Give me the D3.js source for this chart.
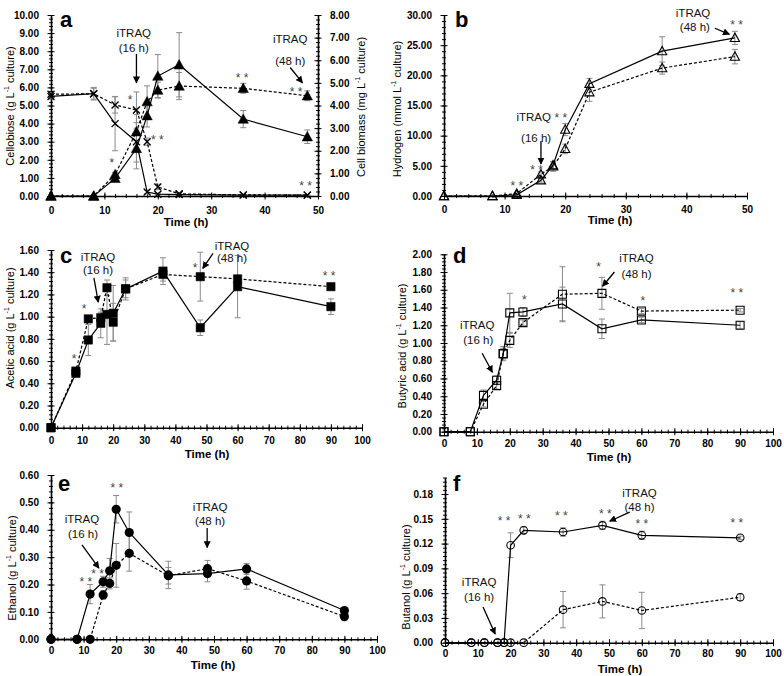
<!DOCTYPE html>
<html><head><meta charset="utf-8">
<script src="https://cdn.jsdelivr.net/npm/d3@7"></script>
<style>body{margin:0;background:#fff} svg{display:block}</style>
</head><body>
<svg id="chart" width="784" height="676"></svg>
<script>
// ---------- DATA ----------
const timeShort = [0, 8, 12, 16, 18, 20, 24, 36, 48];
const timeLong = [0, 8, 12, 16, 18, 20, 24, 36, 48, 60, 90];

// (a) cellobiose (left axis) and cell biomass (right axis)
const cellobioseSolid = [5.5, 5.65, 4.0, 3.0, 0.22, 0.1, 0.08, 0.05, 0.05];
const cellobioseSolidErr = [0.1, 0.3, 1.5, 1.5, 0.1, 0.05, 0.04, 0.02, 0.02];
const cellobioseDashed = [5.62, 5.65, 5.03, 4.75, 3.0, 0.5, 0.12, 0.06, 0.05];
const cellobioseDashedErr = [0.1, 0.35, 0.45, 1.0, 0.2, 0.15, 0.05, 0.02, 0.02];
const biomassSolid = [0, 0, 0.78, 2.1, 3.55, 5.3, 5.8, 3.4, 2.62];
const biomassSolidErr = [0, 0, 0.1, 0.6, 0.5, 0.95, 1.42, 0.38, 0.3];
const biomassDashed = [0, 0, 0.95, 2.84, 4.17, 4.68, 4.86, 4.76, 4.43];
const biomassDashedErr = [0, 0, 0.1, 0.4, 0.7, 0.35, 0.6, 0.22, 0.22];

// (b) hydrogen
const h2Solid = [0, 0, 0.2, 2.6, 5.1, 11.0, 18.6, 24.0, 26.2];
const h2SolidErr = [0, 0, 0.1, 0.3, 0.6, 1.0, 0.9, 2.4, 1.1];
const h2Dashed = [0, 0, 0.4, 3.6, 4.9, 7.8, 17.2, 21.2, 23.1];
const h2DashedErr = [0, 0, 0.1, 0.4, 0.8, 0.8, 1.5, 1.0, 1.2];

// (c) acetic acid
const aceticSolid = [0, 0.49, 0.79, 0.94, 1.02, 1.03, 1.25, 1.41, 0.90, 1.27, 1.09];
const aceticSolidErr = [0, 0.03, 0.14, 0.13, 0.27, 0.25, 0.1, 0.12, 0.07, 0.28, 0.07];
const aceticDashed = [0, 0.51, 0.98, 0.99, 1.26, 0.95, 1.25, 1.38, 1.36, 1.34, 1.27];
const aceticDashedErr = [0, 0.03, 0.02, 0.05, 0.07, 0.17, 0.08, 0.06, 0.22, 0.03, 0.02];

// (d) butyric acid
const butyricSolid = [0, 0, 0.41, 0.58, 0.88, 1.34, 1.35, 1.44, 1.16, 1.26, 1.20];
const butyricSolidErr = [0, 0, 0.06, 0.05, 0.08, 0.22, 0.05, 0.19, 0.11, 0.03, 0.04];
const butyricDashed = [0, 0, 0.31, 0.52, 0.88, 1.03, 1.23, 1.55, 1.56, 1.36, 1.37];
const butyricDashedErr = [0, 0, 0.03, 0.04, 0.06, 0.08, 0.03, 0.31, 0.18, 0.03, 0.02];

// (e) ethanol
const ethanolSolid = [0, 0, 0.165, 0.21, 0.25, 0.475, 0.39, 0.235, 0.24, 0.257, 0.105];
const ethanolSolidErr = [0, 0, 0.035, 0.02, 0.045, 0.05, 0.075, 0.05, 0.03, 0.02, 0.01];
const ethanolDashed = [0, 0, 0, 0.162, 0.204, 0.27, 0.314, 0.232, 0.258, 0.213, 0.083];
const ethanolDashedErr = [0, 0, 0, 0.015, 0.02, 0.08, 0.065, 0.03, 0.03, 0.03, 0.015];

// (f) butanol
const butanolSolid = [0, 0, 0, 0, 0, 0.118, 0.136, 0.134, 0.142, 0.130, 0.127];
const butanolSolidErr = [0, 0, 0, 0, 0, 0.015, 0.004, 0.005, 0.005, 0.005, 0.002];
const butanolDashed = [0, 0, 0, 0, 0, 0, 0, 0.040, 0.050, 0.039, 0.055];
const butanolDashedErr = [0, 0, 0, 0, 0, 0, 0, 0.022, 0.02, 0.022, 0.004];

// tick label values
const ticksX50 = [0, 10, 20, 30, 40, 50];
const ticksX100 = [0, 10, 20, 30, 40, 50, 60, 70, 80, 90, 100];
const ticksCellobiose = [0, 1, 2, 3, 4, 5, 6, 7, 8, 9, 10];
const ticksBiomass = [0, 1, 2, 3, 4, 5, 6, 7, 8];
const ticksHydrogen = [0, 5, 10, 15, 20, 25, 30];
const ticksAcetic = [0, 0.2, 0.4, 0.6, 0.8, 1.0, 1.2, 1.4, 1.6];
const ticksButyric = [0, 0.2, 0.4, 0.6, 0.8, 1.0, 1.2, 1.4, 1.6, 1.8, 2.0];
const ticksEthanol = [0, 0.1, 0.2, 0.3, 0.4, 0.5, 0.6];
const ticksButanol = [0, 0.03, 0.06, 0.09, 0.12, 0.15, 0.18];

// ---------- DRAWING ----------
const FONT = "'Liberation Sans', Arial, sans-serif";
const svg = d3.select('#chart');
svg.append('rect').attr('width', 784).attr('height', 676).attr('fill', '#fff');
const defs = svg.append('defs');
defs.append('marker').attr('id', 'arrow').attr('viewBox', '0 0 10 10')
  .attr('refX', 9).attr('refY', 5).attr('markerWidth', 5.5).attr('markerHeight', 5.5)
  .attr('orient', 'auto').append('path').attr('d', 'M0,0L10,5L0,10z').attr('fill', '#000');

function range(a, b, s) { const r = []; for (let v = a; v <= b + s / 1000; v += s) r.push(+v.toFixed(6)); return r; }

function markerPath(kind) {
  switch (kind) {
    case 'x': return 'M-3.5,-3.5L3.5,3.5M-3.5,3.5L3.5,-3.5';
    case 'triF': return 'M0,-5.2L5.2,4.2L-5.2,4.2Z';
    case 'triO': return 'M0,-4.8L4.6,3.6L-4.6,3.6Z';
    case 'sqF': return 'M-4.2,-4.2H4.2V4.2H-4.2Z';
    case 'sqO': return 'M-4,-4H4V4H-4Z';
    default: return '';
  }
}

function yTitle(g, cx, cy, main, unit) {
  const t = g.append('text').attr('transform', `translate(${cx},${cy}) rotate(-90)`)
    .attr('text-anchor', 'middle').attr('dominant-baseline', 'central')
    .attr('font-family', FONT).attr('font-size', 11).attr('fill', '#000');
  t.append('tspan').text(main + ' (' + unit + ' L');
  t.append('tspan').attr('font-size', 7).attr('dy', -4).text('-1');
  t.append('tspan').attr('dy', 4).text(' culture)');
}

function drawPanel(P) {
  const g = svg.append('g');
  const x = d3.scaleLinear().domain(P.xDomain).range([P.left, P.right]);
  const y = d3.scaleLinear().domain(P.yDomain).range([P.bottom, P.top]);
  const y2 = P.y2Domain ? d3.scaleLinear().domain(P.y2Domain).range([P.bottom, P.top]) : null;
  const sc = a => (a === 'y2' ? y2 : y);

  function styleAxis(a) {
    a.attr('font-family', FONT).attr('font-size', 10).attr('font-weight', 'bold');
    a.selectAll('.domain').attr('stroke', '#000').attr('stroke-width', 1.6);
    a.selectAll('.tick line').attr('stroke', '#000').attr('stroke-width', 1);
  }

  // x axis
  const xg = g.append('g').attr('transform', `translate(0,${P.bottom})`);
  xg.append('g').call(d3.axisBottom(x).tickValues(range(P.xDomain[0], P.xDomain[1], 2)).tickFormat('').tickSizeOuter(0))
    .call(styleAxis).call(a => { a.selectAll('.tick line').attr('y1', -2).attr('y2', 2); a.select('.domain').remove(); });
  xg.append('g').call(d3.axisBottom(x).tickValues(P.xTicks).tickFormat(d3.format('d')).tickSizeOuter(0))
    .call(styleAxis).call(a => {
      a.selectAll('.tick line').attr('y1', -3.5).attr('y2', 3.5);
      a.selectAll('text').attr('y', P.xLabOff).attr('dy', '0.35em').attr('fill', '#000');
    });

  // y axis
  const yg = g.append('g').attr('transform', `translate(${P.left},0)`);
  yg.append('g').call(d3.axisLeft(y).tickValues(range(P.yDomain[0], P.yDomain[1], P.yMinor)).tickFormat('').tickSizeOuter(0))
    .call(styleAxis).call(a => { a.selectAll('.tick line').attr('x1', 2).attr('x2', -2); a.select('.domain').remove(); });
  yg.append('g').call(d3.axisLeft(y).tickValues(P.yTicks).tickFormat(d3.format('.2f')).tickSizeOuter(0).tickPadding(6))
    .call(styleAxis).call(a => {
      a.selectAll('.tick line').attr('x1', 3.5).attr('x2', -3.5);
      a.selectAll('text').attr('fill', '#000');
    });

  if (y2) {
    const y2g = g.append('g').attr('transform', `translate(${P.right},0)`);
    y2g.append('g').call(d3.axisRight(y2).tickValues(range(P.y2Domain[0], P.y2Domain[1], P.y2Minor)).tickFormat('').tickSizeOuter(0))
      .call(styleAxis).call(a => { a.selectAll('.tick line').attr('x1', -2).attr('x2', 2); a.select('.domain').remove(); });
    y2g.append('g').call(d3.axisRight(y2).tickValues(P.y2Ticks).tickFormat(d3.format('.2f')).tickSizeOuter(0).tickPadding(6))
      .call(styleAxis).call(a => {
        a.selectAll('.tick line').attr('x1', -3.5).attr('x2', 3.5);
        a.selectAll('text').attr('fill', '#000');
      });
  }

  // titles
  g.append('text').attr('x', P.xTitle[0]).attr('y', P.xTitle[1]).attr('text-anchor', 'middle')
    .attr('dominant-baseline', 'central').attr('font-family', FONT).attr('font-size', 11.5)
    .attr('font-weight', 'bold').text('Time (h)');
  yTitle(g, P.yTitlePos[0], P.yTitlePos[1], P.yTitle, P.yUnit);
  if (P.y2Title) yTitle(g, P.y2TitlePos[0], P.y2TitlePos[1], P.y2Title, P.y2Unit);
  g.append('text').attr('x', P.letter[0]).attr('y', P.letter[1]).attr('font-family', FONT)
    .attr('font-size', 22).attr('font-weight', 'bold').text(P.letterText);

  // error bars
  P.series.forEach(s => {
    const yy = sc(s.axis);
    s.t.forEach((t, i) => {
      const e = s.err[i];
      if (!e) return;
      const cx = x(t), y1 = yy(s.v[i] + e), y0 = yy(Math.max(0, s.v[i] - e));
      const eg = g.append('g').attr('stroke', '#8a8a8a').attr('stroke-width', 1);
      eg.append('line').attr('x1', cx).attr('x2', cx).attr('y1', y0).attr('y2', y1);
      eg.append('line').attr('x1', cx - 3).attr('x2', cx + 3).attr('y1', y0).attr('y2', y0);
      eg.append('line').attr('x1', cx - 3).attr('x2', cx + 3).attr('y1', y1).attr('y2', y1);
    });
  });
  // lines
  P.series.forEach(s => {
    const yy = sc(s.axis);
    const pts = s.t.map((t, i) => [t, s.v[i]]);
    g.append('path').datum(pts)
      .attr('d', d3.line().x(d => x(d[0])).y(d => yy(d[1])))
      .attr('fill', 'none').attr('stroke', '#000').attr('stroke-width', 1.2)
      .attr('stroke-dasharray', s.dashed ? '3,2' : null);
  });
  // markers
  P.series.forEach(s => {
    const yy = sc(s.axis);
    s.t.forEach((t, i) => {
      const cx = x(t), cy = yy(s.v[i]);
      const k = s.marker;
      if (k === 'cirF') {
        g.append('circle').attr('cx', cx).attr('cy', cy).attr('r', 4.6).attr('fill', '#000');
      } else if (k === 'cirO') {
        g.append('circle').attr('cx', cx).attr('cy', cy).attr('r', 3.8).attr('fill', 'none')
          .attr('stroke', '#000').attr('stroke-width', 1.1);
      } else {
        const filled = k === 'triF' || k === 'sqF';
        g.append('path').attr('transform', `translate(${cx},${cy})`).attr('d', markerPath(k))
          .attr('fill', filled ? '#000' : 'none').attr('stroke', '#000')
          .attr('stroke-width', k === 'x' ? 1.3 : (filled ? 0.5 : 1.1));
      }
    });
  });

  // annotations
  (P.notes || []).forEach(n => {
    const yy = sc(n.axis);
    if (n.arrow) {
      g.append('line').attr('x1', x(n.arrow[0])).attr('y1', yy(n.arrow[1]))
        .attr('x2', x(n.arrow[2])).attr('y2', yy(n.arrow[3]))
        .attr('stroke', '#000').attr('stroke-width', 1.3).attr('marker-end', 'url(#arrow)');
    } else if (n.star) {
      g.append('text').attr('x', x(n.t)).attr('y', yy(n.v)).attr('dy', 7)
        .attr('text-anchor', 'middle').attr('font-family', FONT).attr('font-size', 12)
        .attr('fill', '#444').text(n.star);
    } else {
      g.append('text').attr('x', x(n.t)).attr('y', yy(n.v)).attr('dy', '0.36em')
        .attr('text-anchor', 'middle').attr('font-family', FONT).attr('font-size', 11.5)
        .attr('fill', '#111').text(n.text);
    }
  });
}

const panels = [
  {
    letterText: 'a', letter: [60, 27],
    left: 51, right: 318, top: 15, bottom: 196,
    xDomain: [0, 50], xTicks: ticksX50, xLabOff: 14,
    yDomain: [0, 10], yTicks: ticksCellobiose, yMinor: 0.2,
    y2Domain: [0, 8], y2Ticks: ticksBiomass, y2Minor: 0.2,
    xTitle: [186, 222], yTitle: 'Cellobiose', yUnit: 'g', yTitlePos: [10, 106],
    y2Title: 'Cell biomass', y2Unit: 'mg', y2TitlePos: [361, 107],
    series: [
      { t: timeShort, v: cellobioseSolid, err: cellobioseSolidErr, dashed: false, marker: 'x' },
      { t: timeShort, v: cellobioseDashed, err: cellobioseDashedErr, dashed: true, marker: 'x' },
      { t: timeShort, v: biomassSolid, err: biomassSolidErr, dashed: false, marker: 'triF', axis: 'y2' },
      { t: timeShort, v: biomassDashed, err: biomassDashedErr, dashed: true, marker: 'triF', axis: 'y2' }
    ],
    notes: [
      { text: 'iTRAQ', t: 15.5, v: 9.0 }, { text: '(16 h)', t: 15.5, v: 8.2 },
      { arrow: [16, 7.85, 16, 6.25] },
      { star: '*', t: 11.4, v: 2.0 }, { star: '*', t: 14.8, v: 5.47 }, { star: '* *', t: 19.9, v: 3.26 },
      { star: '* *', t: 35.8, v: 5.35, axis: 'y2' },
      { text: 'iTRAQ', t: 44.8, v: 6.94, axis: 'y2' }, { text: '(48 h)', t: 44.8, v: 5.97, axis: 'y2' },
      { arrow: [44.8, 5.68, 47.1, 5.0], axis: 'y2' },
      { star: '* *', t: 45.9, v: 4.73, axis: 'y2' }, { star: '* *', t: 47.7, v: 0.57, axis: 'y2' }
    ]
  },
  {
    letterText: 'b', letter: [455, 27],
    left: 444, right: 747, top: 15, bottom: 196,
    xDomain: [0, 50], xTicks: ticksX50, xLabOff: 13,
    yDomain: [0, 30], yTicks: ticksHydrogen, yMinor: 1,
    xTitle: [610, 220], yTitle: 'Hydrogen', yUnit: 'mmol', yTitlePos: [397, 109],
    series: [
      { t: timeShort, v: h2Solid, err: h2SolidErr, dashed: false, marker: 'triO' },
      { t: timeShort, v: h2Dashed, err: h2DashedErr, dashed: true, marker: 'triO' }
    ],
    notes: [
      { text: 'iTRAQ', t: 14.8, v: 13.1 }, { star: '* *', t: 19.3, v: 13.5 },
      { text: '(16 h)', t: 15.2, v: 9.6 },
      { arrow: [16, 9.1, 16, 5.3] },
      { star: '* *', t: 15.3, v: 4.8 }, { star: '* *', t: 12.0, v: 2.15 },
      { text: 'iTRAQ', t: 41.1, v: 30.3 }, { text: '(48 h)', t: 41.4, v: 28.1 },
      { arrow: [44.7, 27.8, 47.1, 26.8] },
      { star: '* *', t: 48.3, v: 28.8 }
    ]
  },
  {
    letterText: 'c', letter: [60, 263],
    left: 51, right: 362, top: 250, bottom: 427.7,
    xDomain: [0, 100], xTicks: ticksX100, xLabOff: 12.5,
    yDomain: [0, 1.6], yTicks: ticksAcetic, yMinor: 0.04,
    xTitle: [207, 454], yTitle: 'Acetic acid', yUnit: 'g', yTitlePos: [10, 328],
    series: [
      { t: timeLong, v: aceticSolid, err: aceticSolidErr, dashed: false, marker: 'sqF' },
      { t: timeLong, v: aceticDashed, err: aceticDashedErr, dashed: true, marker: 'sqF' }
    ],
    notes: [
      { text: 'iTRAQ', t: 15.1, v: 1.537 }, { text: '(16 h)', t: 15.1, v: 1.42 },
      { arrow: [13.8, 1.35, 15.2, 1.13] },
      { star: '*', t: 10.6, v: 1.095 }, { star: '*', t: 7.4, v: 0.646 },
      { star: '*', t: 46.3, v: 1.465 },
      { text: 'iTRAQ', t: 58.2, v: 1.636 }, { text: '(48 h)', t: 58.2, v: 1.528 },
      { arrow: [52.1, 1.57, 48.8, 1.435] },
      { star: '* *', t: 89.4, v: 1.393 }
    ]
  },
  {
    letterText: 'd', letter: [453, 263],
    left: 444, right: 773, top: 254.3, bottom: 431.7,
    xDomain: [0, 100], xTicks: ticksX100, xLabOff: 11.6,
    yDomain: [0, 2.0], yTicks: ticksButyric, yMinor: 0.04,
    xTitle: [609, 457], yTitle: 'Butyric acid', yUnit: 'g', yTitlePos: [402, 346],
    series: [
      { t: timeLong, v: butyricSolid, err: butyricSolidErr, dashed: false, marker: 'sqO' },
      { t: timeLong, v: butyricDashed, err: butyricDashedErr, dashed: true, marker: 'sqO' }
    ],
    notes: [
      { text: 'iTRAQ', t: 10.1, v: 1.2 }, { text: '(16 h)', t: 10.4, v: 1.03 },
      { arrow: [11.6, 0.885, 14.7, 0.67] },
      { star: '*', t: 24.4, v: 1.518 },
      { star: '*', t: 47, v: 1.89 },
      { text: 'iTRAQ', t: 58.5, v: 1.96 }, { text: '(48 h)', t: 58.5, v: 1.78 },
      { arrow: [51.8, 1.80, 48.2, 1.64] },
      { star: '*', t: 60.4, v: 1.51 },
      { star: '* *', t: 89, v: 1.60 }
    ]
  },
  {
    letterText: 'e', letter: [58, 491],
    left: 51, right: 377, top: 475, bottom: 639.3,
    xDomain: [0, 100], xTicks: ticksX100, xLabOff: 11.7,
    yDomain: [0, 0.6], yTicks: ticksEthanol, yMinor: 0.02,
    xTitle: [213, 665], yTitle: 'Ethanol', yUnit: 'g', yTitlePos: [12, 568],
    series: [
      { t: timeLong, v: ethanolSolid, err: ethanolSolidErr, dashed: false, marker: 'cirF' },
      { t: timeLong, v: ethanolDashed, err: ethanolDashedErr, dashed: true, marker: 'cirF' }
    ],
    notes: [
      { text: 'iTRAQ', t: 9.5, v: 0.44 }, { text: '(16 h)', t: 9.8, v: 0.385 },
      { arrow: [9.5, 0.345, 14.7, 0.26] },
      { star: '* *', t: 10.7, v: 0.222 }, { star: '* *', t: 14.3, v: 0.25 },
      { star: '* *', t: 20.2, v: 0.563 },
      { text: 'iTRAQ', t: 48.8, v: 0.483 }, { text: '(48 h)', t: 48.8, v: 0.432 },
      { arrow: [47.9, 0.406, 47.9, 0.335] }
    ]
  },
  {
    letterText: 'f', letter: [453, 491],
    left: 445, right: 773, top: 477.5, bottom: 642.7,
    xDomain: [0, 100], xTicks: ticksX100, xLabOff: 11.3,
    yDomain: [0, 0.2], yTicks: ticksButanol, yMinor: 0.005,
    xTitle: [620, 669], yTitle: 'Butanol', yUnit: 'g', yTitlePos: [406, 577],
    series: [
      { t: timeLong, v: butanolSolid, err: butanolSolidErr, dashed: false, marker: 'cirO' },
      { t: timeLong, v: butanolDashed, err: butanolDashedErr, dashed: true, marker: 'cirO' }
    ],
    notes: [
      { text: 'iTRAQ', t: 10.4, v: 0.0735 }, { text: '(16 h)', t: 10.4, v: 0.0553 },
      { arrow: [11.6, 0.0432, 15.3, 0.0105] },
      { star: '* *', t: 18.0, v: 0.151 }, { star: '* *', t: 24.2, v: 0.153 }, { star: '* *', t: 35.5, v: 0.157 },
      { star: '* *', t: 48.9, v: 0.1594 },
      { text: 'iTRAQ', t: 59.3, v: 0.181 }, { text: '(48 h)', t: 59.3, v: 0.164 },
      { arrow: [56.3, 0.158, 50.2, 0.147] },
      { star: '* *', t: 60, v: 0.147 }, { star: '* *', t: 89, v: 0.148 }
    ]
  }
];

panels.forEach(drawPanel);
</script>
</body></html>
